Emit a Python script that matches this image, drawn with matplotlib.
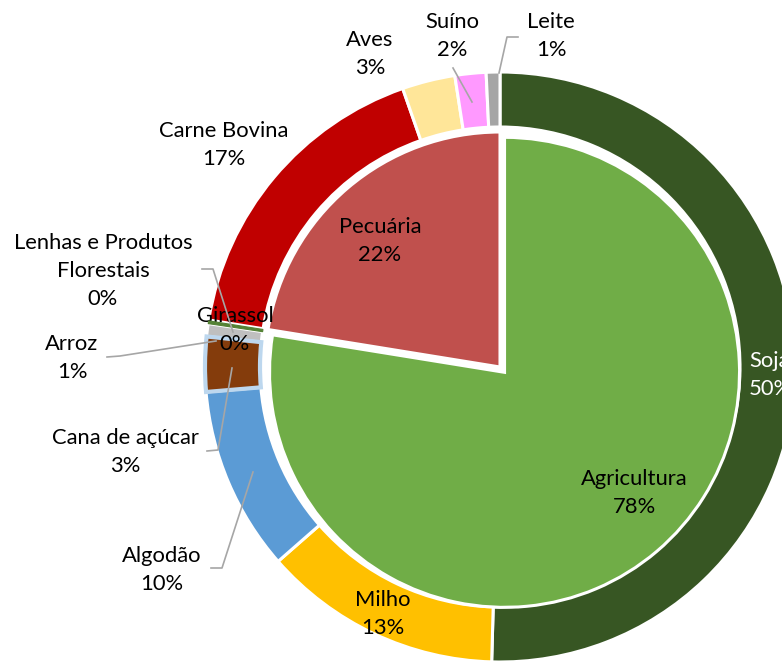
import matplotlib.pyplot as plt

plt.rcParams['font.family'] = ['Lato', 'DejaVu Sans']

# outer ring: products (share of total, %)
products = ["Soja", "Milho", "Algodão", "Cana de açúcar", "Arroz", "Girassol",
            "Lenhas e Produtos\nFlorestais",
            "Carne Bovina", "Aves", "Suíno", "Leite"]
product_vals = [50.45, 13.1, 10.1, 3.0, 0.7, 0.15, 0.05,
                17.1, 2.9, 1.7, 0.75]
product_colors = ["#375623", "#FFC000", "#5B9BD5", "#843C0C", "#BFBFBF", "#548235", "#A9D18E",
                  "#C00000", "#FFE699", "#FF99FF", "#A5A5A5"]

# inner pie: sectors
sectors = ["Agricultura", "Pecuária"]
n_agri = 7
sector_vals = [sum(product_vals[:n_agri]), sum(product_vals[n_agri:])]
sector_colors = ["#70AD47", "#C0504D"]

W, H = 782, 663
fig = plt.figure(figsize=(W / 100, H / 100), dpi=100)
ax = fig.add_axes([0, 0, 1, 1])

def P(x, y):
    # image pixel -> data coords
    return x, H - y

cx, cy = P(500, 367)

wedges_out, _ = ax.pie(product_vals, radius=295, center=(cx, cy), startangle=90,
                       counterclock=False, colors=product_colors,
                       wedgeprops=dict(width=55, edgecolor="white", linewidth=2.2))
# Excel selection glow around Cana de açúcar
wedges_out[3].set_edgecolor("#BDD7EE")
wedges_out[3].set_linewidth(3)
wedges_out[3].set_zorder(3)
wedges_out[5].set_edgecolor(product_colors[5])
wedges_out[5].set_linewidth(0.8)
wedges_out[5].set_zorder(4)

ax.pie(sector_vals, radius=235, center=(cx, cy), startangle=90, counterclock=False,
       colors=sector_colors, explode=[7, 0],
       wedgeprops=dict(edgecolor="white", linewidth=2.2))

ax.set_xlim(0, W)
ax.set_ylim(0, H)
ax.axis("off")

fs = 15.8
txt = dict(fontsize=fs, ha="center", va="center", linespacing=1.5, color="black")

def lab(name, v):
    return f"{name}\n{round(v)}%"

# inner labels
ax.text(*P(634, 493), lab(sectors[0], sector_vals[0]), **txt)
ax.text(*P(380, 241), lab(sectors[1], sector_vals[1]), **txt)

label_pos = {
    "Soja": (749, 375, "left"),
    "Milho": (383, 614, "center"),
    "Algodão": (162, 570, "center"),
    "Cana de açúcar": (125, 452, "center"),
    "Arroz": (72, 358, "center"),
    "Girassol": (235, 330, "center"),
    "Lenhas e Produtos\nFlorestais": (103, 271, "center"),
    "Carne Bovina": (224, 145, "center"),
    "Aves": (370, 54, "center"),
    "Suíno": (452, 36, "center"),
    "Leite": (551, 36, "center"),
}
for name, v in zip(products, product_vals):
    x, y, ha = label_pos[name]
    kw = dict(txt)
    kw["ha"] = ha
    if name == "Soja":
        kw["color"] = "white"
        kw["multialignment"] = "left"
    ax.text(*P(x, y), lab(name, v), **kw)

# leader lines
leaders = [
    [(453, 68), (472, 102)],
    [(518, 37), (507, 37), (499, 73)],
    [(202, 269), (213, 269), (233, 332)],
    [(107, 357), (120, 356), (216, 341)],
    [(207, 451), (218, 450), (232, 368)],
    [(211, 568), (222, 568), (253, 472)],
]
for pts in leaders:
    xs = [p[0] for p in pts]
    ys = [H - p[1] for p in pts]
    ax.plot(xs, ys, color="#A6A6A6", lw=1.2, zorder=5)

fig.savefig("out.png", dpi=100)
